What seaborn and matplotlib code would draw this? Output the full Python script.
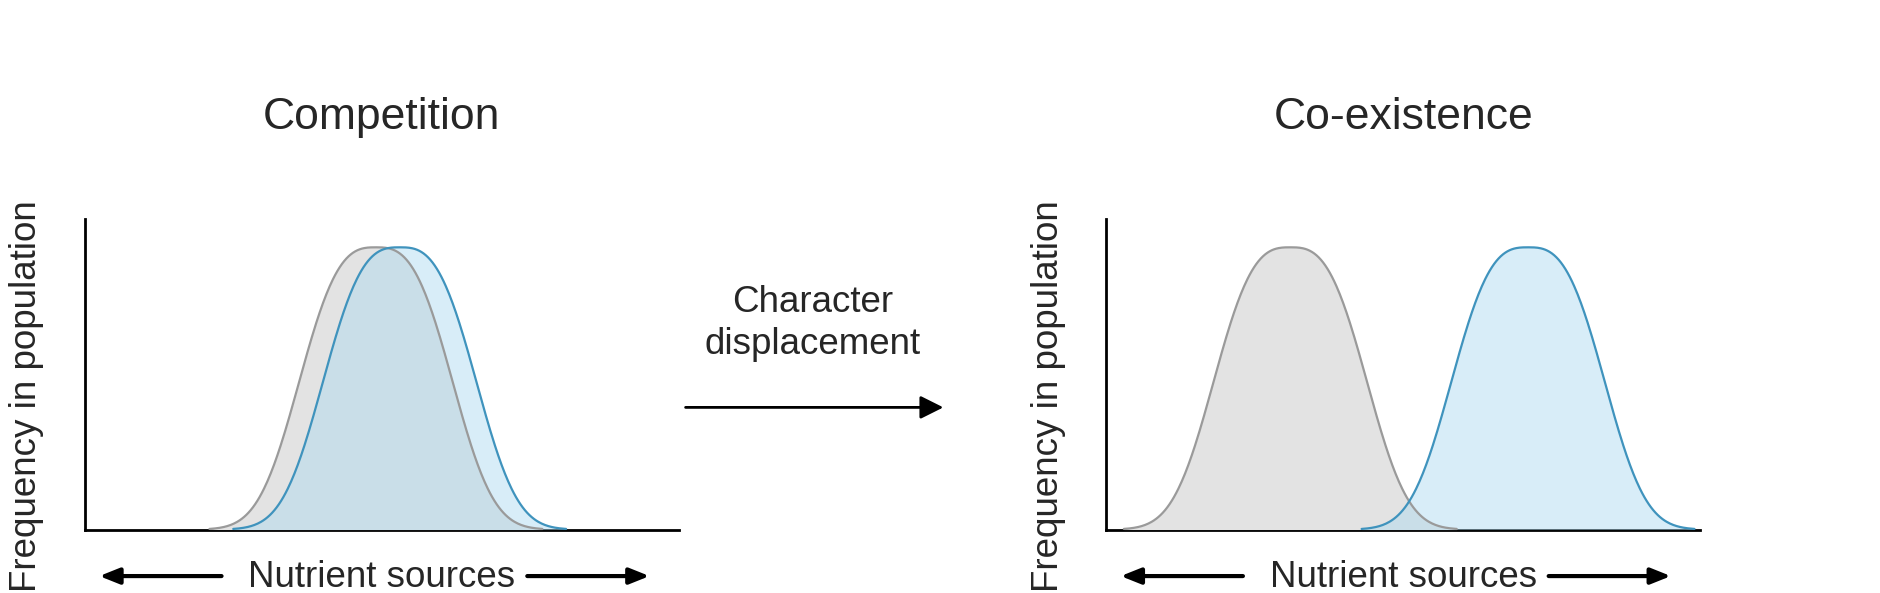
import numpy as np
import pandas as pd
import seaborn as sns
import matplotlib.pyplot as plt

sns.set_theme(style="white")
plt.rcParams['font.family'] = ['Liberation Sans', 'DejaVu Sans']

panel_titles = ["Competition", "Co-existence"]
species = ["grey", "blue"]
# peak centres (nutrient axis 0-100)
centers = {"Competition": [49, 53], "Co-existence": [31, 71]}
peak_height = 0.91
half_width = 15.0   # scale of flat-topped bell
shape_power = 2.9
support = 28

fill_colors = {"grey": "#e3e3e3", "blue": "#aad9f0"}
fill_alpha = {"grey": 1.0, "blue": 0.45}
edge_colors = {"grey": "#9a9a9a", "blue": "#3f93bd"}

fig = plt.figure(figsize=(18.81, 5.93), dpi=100)
axes = [fig.add_axes([0.045, 0.107, 0.316, 0.523]),
        fig.add_axes([0.588, 0.107, 0.316, 0.523])]

for ax, title in zip(axes, panel_titles):
    rows = []
    for sp, c in zip(species, centers[title]):
        x = np.linspace(c - support, c + support, 300)
        y = peak_height * np.exp(-np.abs((x - c) / half_width) ** shape_power)
        rows.append(pd.DataFrame({"x": x, "y": y, "sp": sp}))
    df = pd.concat(rows)
    for sp in species:
        d = df[df.sp == sp]
        ax.fill_between(d.x, 0, d.y, color=fill_colors[sp], alpha=fill_alpha[sp], lw=0, zorder=2)
    sns.lineplot(data=df, x="x", y="y", hue="sp", palette=edge_colors, ax=ax,
                 legend=False, lw=1.6, zorder=3, sort=False, estimator=None)
    ax.set_xlim(0, 100)
    ax.set_ylim(0, 1)
    ax.set_xticks([]); ax.set_yticks([])
    ax.set_xlabel(""); ax.set_ylabel("")
    for s in ["top", "right"]:
        ax.spines[s].set_visible(False)
    for s in ["left", "bottom"]:
        ax.spines[s].set_color("black"); ax.spines[s].set_linewidth(2)
    ax.spines["bottom"].set_zorder(1)
    ax.text(0.5, 1.33, title, transform=ax.transAxes, ha="center", va="center", fontsize=32)
    ax.text(-0.097, 0.43, "Frequency in population", transform=ax.transAxes, rotation=90,
            ha="center", va="center", fontsize=26.5)
    ax.text(0.5, -0.155, "Nutrient sources", transform=ax.transAxes, ha="center", va="center", fontsize=26.5)
    for x0, x1 in [(0.235, 0.02), (0.74, 0.955)]:
        ax.annotate("", xy=(x1, -0.15), xytext=(x0, -0.15), xycoords="axes fraction",
                    arrowprops=dict(arrowstyle="-|>,head_length=1.0,head_width=0.4", color="black", lw=3),
                    annotation_clip=False)

fig.text(0.432, 0.455, "Character\ndisplacement", ha="center", va="center", fontsize=26.5, linespacing=1.25)
fig.add_artist(plt.matplotlib.patches.FancyArrowPatch((0.363, 0.313), (0.503, 0.313),
               transform=fig.transFigure, arrowstyle="-|>,head_length=7,head_width=3.5",
               mutation_scale=2, color="black", lw=2))

fig.savefig("out.png", dpi=100, facecolor="white")
